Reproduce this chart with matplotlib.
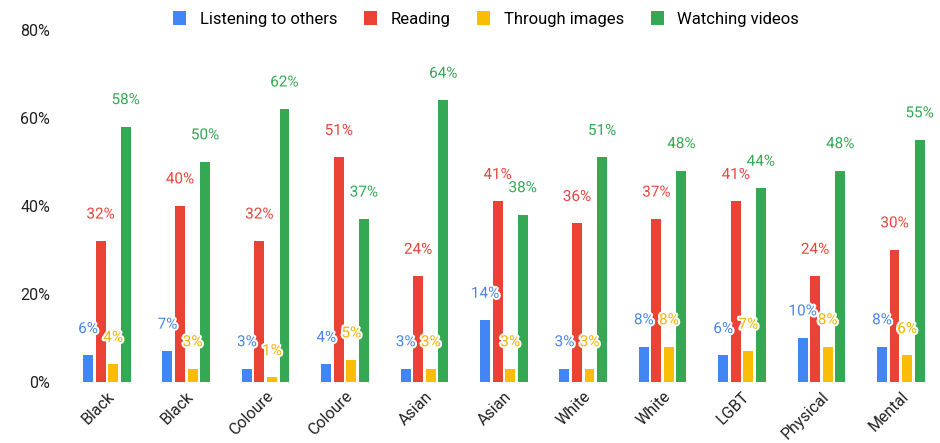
import matplotlib.pyplot as plt
import matplotlib.patheffects as pe
import numpy as np
from matplotlib.ticker import FuncFormatter
from matplotlib import transforms

plt.rcParams['font.family'] = ['Roboto', 'DejaVu Sans']

categories = ['Black', 'Black', 'Coloure', 'Coloure', 'Asian', 'Asian',
              'White', 'White', 'LGBT', 'Physical', 'Mental']
series = ['Listening to others', 'Reading', 'Through images', 'Watching videos']
listening = [6, 7, 3, 4, 3, 14, 3, 8, 6, 10, 8]
reading = [32, 40, 32, 51, 24, 41, 36, 37, 41, 24, 30]
images = [4, 3, 1, 5, 3, 3, 3, 8, 7, 8, 6]
videos = [58, 50, 62, 37, 64, 38, 51, 48, 44, 48, 55]
colors = ['#4285F4', '#EA4335', '#FBBC04', '#34A853']
text_colors = ['#4a86e8', '#e8453c', '#f4b400', '#34a853']

fig = plt.figure(figsize=(9.4, 4.43), dpi=100)
ax = fig.add_axes([0.074, 0.138, 0.924, 0.795])

x = np.arange(len(categories))
step = 0.158
width = 0.125
data = [listening, reading, images, videos]
for i, vals in enumerate(data):
    pos = x + (i - 1.5) * step
    ax.bar(pos, vals, width, color=colors[i], label=series[i], zorder=2)
    for xp, v in zip(pos, vals):
        ax.annotate(f'{v}%', (xp, v), xytext=(0, 14), textcoords='offset points',
                    ha='center', va='bottom', fontsize=11, color=text_colors[i], zorder=5,
                    path_effects=[pe.withStroke(linewidth=3, foreground='white')])

ax.set_ylim(0, 80)
ax.set_yticks([0, 20, 40, 60, 80])
ax.yaxis.set_major_formatter(FuncFormatter(lambda v, p: f'{int(v)}%'))
ax.set_xlim(-0.47, len(categories) - 0.53)
ax.set_xticks(x)
offset = transforms.ScaledTranslation(12 / 100, 0, fig.dpi_scale_trans)
ax.set_xticklabels(categories, rotation=45, ha='right', rotation_mode='anchor', fontsize=11.5)
for lbl in ax.get_xticklabels():
    lbl.set_transform(lbl.get_transform() + offset)
ax.tick_params(axis='both', length=0, labelsize=11.5, colors='#222222')
ax.tick_params(axis='x', pad=5)
ax.tick_params(axis='y', pad=14)
for s in ax.spines.values():
    s.set_visible(False)

fig.legend(*ax.get_legend_handles_labels(), loc='center', bbox_to_anchor=(0.517, 0.958),
           ncol=4, frameon=False, fontsize=12, handlelength=0.8, handleheight=1.0,
           columnspacing=1.6, handletextpad=0.8)

fig.savefig('out.png', dpi=100)
